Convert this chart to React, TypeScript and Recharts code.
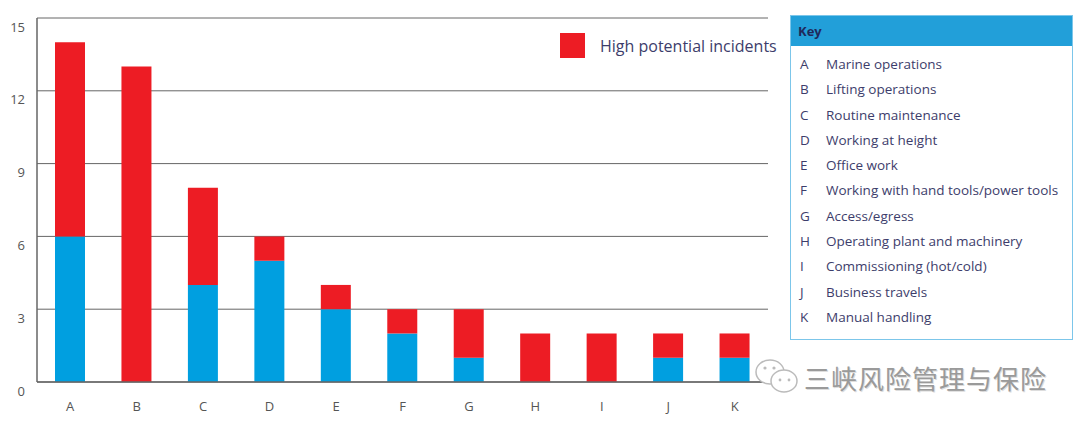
import { BarChart, Bar, XAxis, YAxis, CartesianGrid } from "recharts";

const categories = ["A", "B", "C", "D", "E", "F", "G", "H", "I", "J", "K"];
const otherIncidents = [6, 0, 4, 5, 3, 2, 1, 0, 0, 1, 1];
const highPotential = [8, 13, 4, 1, 1, 1, 2, 2, 2, 1, 1];
const yTicks = [0, 3, 6, 9, 12, 15];
const keyLabels = [
  "Marine operations",
  "Lifting operations",
  "Routine maintenance",
  "Working at height",
  "Office work",
  "Working with hand tools/power tools",
  "Access/egress",
  "Operating plant and machinery",
  "Commissioning (hot/cold)",
  "Business travels",
  "Manual handling",
];

const data = categories.map((c, i) => ({
  cat: c,
  other: otherIncidents[i],
  high: highPotential[i],
}));

const FONT = "'Open Sans', 'Noto Sans', sans-serif";
const BLUE = "#009fe0";
const RED = "#ed1c24";
const TEXT = "#3d3d6b";

export default function App() {
  return (
    <div style={{ position: "absolute", left: 0, top: 0, width: 1080, height: 424, background: "#fff" }}>
      <BarChart
        width={1080}
        height={424}
        data={data}
        margin={{ top: 18, right: 312, bottom: 12, left: 0 }}
        barSize={30}
      >
        <CartesianGrid vertical={false} stroke="#666" strokeWidth={1} />
        <XAxis
          dataKey="cat"
          axisLine={{ stroke: "#666", strokeWidth: 1.5 }}
          tickLine={false}
          height={30}
          tickMargin={14}
          tick={{ fontSize: 13, fill: "#555", fontFamily: FONT }}
        />
        <YAxis
          width={37}
          domain={[0, 15]}
          ticks={yTicks}
          interval={0}
          axisLine={{ stroke: "#666", strokeWidth: 1.5 }}
          tickLine={false}
          tickMargin={6}
          tick={{ fontSize: 13, fill: "#555", fontFamily: FONT, dy: 9 }}
        />
        <Bar dataKey="other" stackId="s" fill={BLUE} isAnimationActive={false} />
        <Bar dataKey="high" stackId="s" fill={RED} name="High potential incidents" isAnimationActive={false} />
      </BarChart>

      {/* legend, only the red series is named in the original */}
      <div
        style={{
          position: "absolute",
          left: 560,
          top: 33,
          display: "flex",
          alignItems: "center",
          fontFamily: FONT,
          fontSize: 16,
          color: TEXT,
        }}
      >
        <span style={{ width: 25, height: 25, background: RED, display: "inline-block", marginRight: 15 }} />
        High potential incidents
      </div>

      <div
        style={{
          position: "absolute",
          left: 790,
          top: 15,
          width: 281,
          height: 323,
          border: "1.5px solid #7cc6ea",
          fontFamily: FONT,
          color: TEXT,
          fontSize: 13.5,
        }}
      >
        <div style={{ background: "#229fd9", height: 30, lineHeight: "30px", paddingLeft: 7, fontWeight: 700, fontSize: 13, color: "#1f2a5c" }}>
          Key
        </div>
        <div style={{ paddingTop: 6 }}>
          {categories.map((c, i) => (
            <div key={c} style={{ height: 25.3, lineHeight: "25.3px", display: "flex" }}>
              <span style={{ width: 26, paddingLeft: 9, boxSizing: "content-box" }}>{c}</span>
              <span>{keyLabels[i]}</span>
            </div>
          ))}
        </div>
      </div>

      <div style={{ position: "absolute", left: 752, top: 355, display: "flex", alignItems: "center" }}>
        <svg width={48} height={44}>
          <ellipse cx={18} cy={17} rx={14} ry={12} fill="#fff" stroke="#bbb" strokeWidth={1.5} />
          <ellipse cx={32} cy={26} rx={13} ry={11} fill="#fff" stroke="#bbb" strokeWidth={1.5} />
          <circle cx={13} cy={13} r={1.6} fill="#bbb" />
          <circle cx={22} cy={13} r={1.6} fill="#bbb" />
          <circle cx={28} cy={25} r={1.4} fill="#bbb" />
          <circle cx={37} cy={25} r={1.4} fill="#bbb" />
        </svg>
        <span
          style={{
            fontFamily: "'Noto Sans CJK SC', sans-serif",
            fontSize: 26,
            color: "#9a9a9a",
            letterSpacing: 1,
            marginLeft: 4,
            textShadow: "1px 1px 0 #ddd",
          }}
        >
          三峡风险管理与保险
        </span>
      </div>
    </div>
  );
}
